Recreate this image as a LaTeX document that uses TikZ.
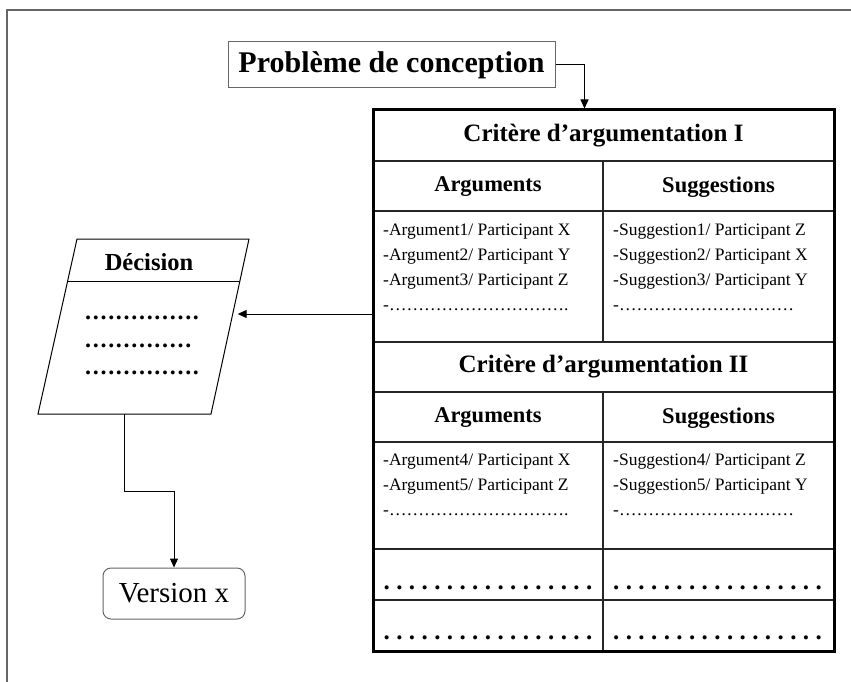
\documentclass[tikz,border=0pt]{standalone}
\usepackage{fontspec}
\setmainfont{Liberation Serif}
\usetikzlibrary{arrows.meta,calc}
% a row of periods set at an even pitch
\newcommand\spreaddots[2]{\foreach \k in {1,...,#1}{\ifnum\k>1\hspace*{#2}\fi.}}
% a run of ellipses
\newcommand\ellrow[1]{\foreach \k in {1,...,#1}{…}}
\begin{document}
\begin{tikzpicture}[x=1pt,y=-1pt,
  frame/.style={draw=black!60, line width=1.2pt},
  probbox/.style={draw=black!60, line width=1pt, minimum width=327pt, minimum height=46pt,
    inner sep=0pt, font=\fontsize{30}{32}\selectfont\bfseries},
  tablebox/.style={draw=black, line width=3pt, minimum width=461pt, minimum height=541pt, inner sep=0pt},
  rule/.style={draw=black!85, line width=1.5pt},
  crit/.style={font=\fontsize{25}{28}\selectfont\bfseries, inner sep=0pt},
  head/.style={font=\fontsize{22.5}{25}\selectfont\bfseries, inner sep=0pt},
  cell/.style={font=\fontsize{17.5}{25}\selectfont, align=left, anchor=north west, inner sep=0pt},
  dotrow/.style={font=\fontsize{25}{28}\selectfont\bfseries, inner sep=0pt, anchor=base,
    text height=4pt, text depth=0pt},
  decshape/.style={draw=black, line width=1pt, line join=miter},
  dectitle/.style={font=\fontsize{24.5}{27}\selectfont\bfseries, inner sep=0pt},
  decdots/.style={font=\fontsize{24}{26}\selectfont\bfseries, inner sep=0pt, anchor=base west,
    text height=4pt, text depth=0pt},
  vbox/.style={draw=black!60, line width=1pt, rounded corners=8pt, minimum width=142pt,
    minimum height=51pt, inner sep=0pt, font=\fontsize{29}{32}\selectfont},
  conn/.style={draw=black, line width=1pt},
  arr/.style={conn, -{Triangle[length=9pt,width=8pt]}},
]
\useasboundingbox (0,0) rectangle (851,682);

% page frame (top and left edges)
\draw[frame] (7,682) -- (7,10) -- (851,10);

% design problem
\node[probbox] (prob) at (391.5,65) {Problème de conception};

% argumentation table
\node[tablebox] (tab) at (603.5,380.5) {};
\foreach \yy in {161,211,342,392,442,549,600}
  \draw[rule] (374.5,\yy) -- (832.5,\yy);
\draw[rule] (603,161) -- (603,342);
\draw[rule] (603,392) -- (603,649.5);

\node[crit] (c1) at (603.5,136) {Critère d’argumentation I};
\node[head] (h1a) at (488,187) {Arguments};
\node[head] (h1s) at (718.5,187) {Suggestions};
\node[cell] (a1) at (383,224) {-Argument1/ Participant X\\-Argument2/ Participant Y\\-Argument3/ Participant Z\\-\ellrow{10}.};
\node[cell] (s1) at (613,224) {-Suggestion1/ Participant Z\\-Suggestion2/ Participant X\\-Suggestion3/ Participant Y\\-\ellrow{10}};

\node[crit] (c2) at (603.5,367) {Critère d’argumentation II};
\node[head] (h2a) at (488,418) {Arguments};
\node[head] (h2s) at (718.5,418) {Suggestions};
\node[cell] (a2) at (383,454) {-Argument4/ Participant X\\-Argument5/ Participant Z\\-\ellrow{10}.};
\node[cell] (s2) at (613,454) {-Suggestion4/ Participant Z\\-Suggestion5/ Participant Y\\-\ellrow{10}};

\node[dotrow] (d1a) at (488,589) {\spreaddots{17}{6.4pt}};
\node[dotrow] (d1s) at (717.5,589) {\spreaddots{17}{6.4pt}};
\node[dotrow] (d2a) at (488,639) {\spreaddots{17}{6.4pt}};
\node[dotrow] (d2s) at (717.5,639) {\spreaddots{17}{6.4pt}};

% decision
\coordinate (dtl) at (77,239);
\coordinate (dtr) at (249,239);
\coordinate (dbr) at (211,414);
\coordinate (dbl) at (38,414);
\coordinate (dbot) at (124.5,414);
\coordinate (din) at (232.7,314);
\draw[decshape] (dtl) -- (dtr) -- (dbr) -- (dbl) -- cycle;
\draw[conn] ($(dtl)!0.2457!(dbl)$) -- ($(dtr)!0.2457!(dbr)$);
\node[dectitle] (dt) at (149,262) {Décision};
\node[decdots] (dd1) at (85,319) {\spreaddots{15}{1.7pt}};
\node[decdots] (dd2) at (85,347) {\spreaddots{14}{1.7pt}};
\node[decdots] (dd3) at (85,374) {\spreaddots{15}{1.7pt}};

% version
\node[vbox] (ver) at (174,593.5) {Version x};

% connectors
\draw[arr] (prob.east) -| ($(tab.north)+(-19,0)$);
\draw[arr, shorten >=5pt] (tab.west |- din) -- (din);
\draw[arr] (dbot) -- ++(0,77) -| (ver.north);
\end{tikzpicture}
\end{document}
